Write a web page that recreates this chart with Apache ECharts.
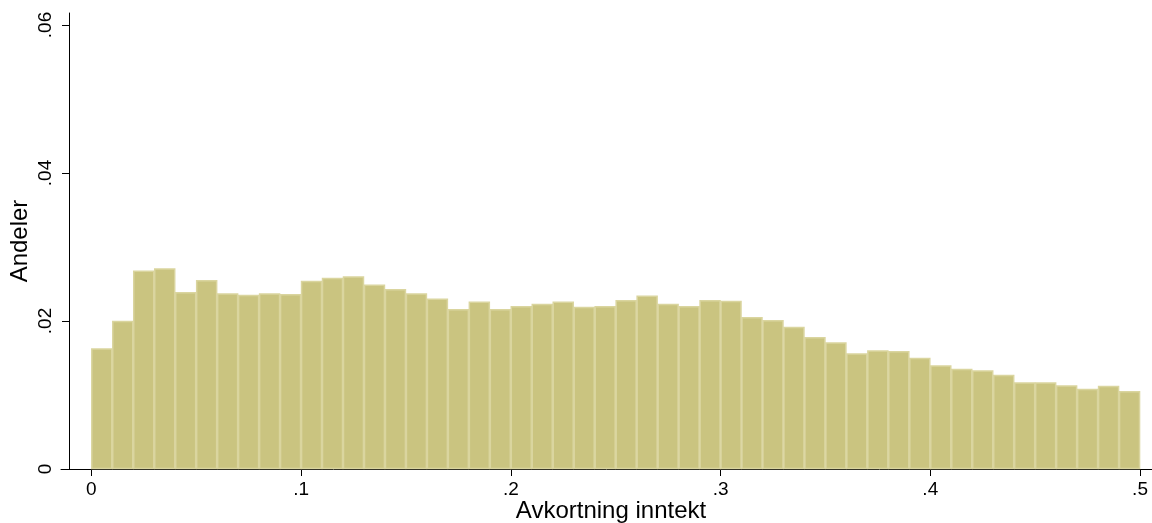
<!DOCTYPE html>
<html>
<head>
<meta charset="utf-8">
<script src="https://cdn.jsdelivr.net/npm/echarts@6/dist/echarts.min.js"></script>
<style>html,body{margin:0;padding:0;background:#fff}#c{width:1152px;height:523px}</style>
</head>
<body>
<div id="c"></div>
<script>
// Bin left edges (width 0.01)
var binStarts = [0.00,0.01,0.02,0.03,0.04,0.05,0.06,0.07,0.08,0.09,
                 0.10,0.11,0.12,0.13,0.14,0.15,0.16,0.17,0.18,0.19,
                 0.20,0.21,0.22,0.23,0.24,0.25,0.26,0.27,0.28,0.29,
                 0.30,0.31,0.32,0.33,0.34,0.35,0.36,0.37,0.38,0.39,
                 0.40,0.41,0.42,0.43,0.44,0.45,0.46,0.47,0.48,0.49];
var binWidth = 0.01;
// Share (Andeler) per bin
var shares = [0.0163,0.0200,0.0268,0.0271,0.0239,0.0255,0.0237,0.0235,0.0237,0.0236,
              0.0254,0.0258,0.0260,0.0249,0.0243,0.0237,0.0230,0.0216,0.0226,0.0216,
              0.0220,0.0223,0.0226,0.0219,0.0220,0.0228,0.0234,0.0223,0.0220,0.0228,
              0.0227,0.0205,0.0201,0.0192,0.0178,0.0171,0.0156,0.0160,0.0159,0.0150,
              0.0140,0.0135,0.0133,0.0127,0.0117,0.0117,0.0113,0.0108,0.0112,0.0105];
var xTicks = [0, 0.1, 0.2, 0.3, 0.4, 0.5];
var yTicks = [0, 0.02, 0.04, 0.06];
var xTitle = 'Avkortning inntekt';
var yTitle = 'Andeler';

function fmt(v){
  if (Math.abs(v) < 1e-9) return '0';
  var s = String(Math.round(v*1000)/1000);
  return s.replace(/^0\./, '.');
}

var data = binStarts.map(function(s, i){ return [s, s + binWidth, shares[i]]; });

var chart = echarts.init(document.getElementById('c'), null, {renderer:'canvas'});
var FONT = 'Liberation Sans, Arial, Helvetica, sans-serif';
chart.setOption({
  animation: false,
  backgroundColor: '#ffffff',
  grid: {left: 61, right: 0, top: 13, bottom: 54, containLabel: false, outerBoundsMode: 'none'},
  xAxis: {
    type: 'value',
    min: -0.01445, max: 0.5057,
    name: xTitle,
    nameLocation: 'middle',
    nameGap: 30,
    nameMoveOverlap: false,
    nameTextStyle: {fontFamily: FONT, fontSize: 24, color: '#000', padding: [0, 0, 0, 9]},
    axisLine: {show: true, onZero: false, lineStyle: {color: '#000', width: 1}},
    axisTick: {show: true, length: 7, customValues: xTicks, lineStyle: {color: '#000', width: 1}},
    axisLabel: {customValues: xTicks, formatter: fmt, fontFamily: FONT, fontSize: 19, color: '#000', margin: 11},
    splitLine: {show: false}
  },
  yAxis: {
    type: 'value',
    min: 0, max: 0.06162,
    offset: -8,
    name: yTitle,
    nameLocation: 'middle',
    nameGap: 37,
    nameRotate: 90,
    nameMoveOverlap: false,
    nameTextStyle: {fontFamily: FONT, fontSize: 24, color: '#000'},
    axisLine: {show: true, onZero: false, lineStyle: {color: '#000', width: 1}},
    axisTick: {show: true, length: 7, customValues: yTicks, lineStyle: {color: '#000', width: 1}},
    axisLabel: {customValues: yTicks, formatter: fmt, rotate: 90, fontFamily: FONT, fontSize: 19, color: '#000', margin: 14},
    splitLine: {show: false}
  },
  series: [{
    type: 'custom',
    data: data,
    encode: {x: [0, 1], y: 2},
    renderItem: function(params, api){
      var p0 = api.coord([api.value(0), api.value(2)]);
      var p1 = api.coord([api.value(1), 0]);
      return {
        type: 'rect',
        shape: {x: p0[0] + 0.5, y: p0[1] + 0.5, width: p1[0] - p0[0] - 1, height: p1[1] - p0[1] - 1},
        style: {fill: '#cac480', stroke: '#dad59f', lineWidth: 1.5}
      };
    }
  }]
});
</script>
</body>
</html>
